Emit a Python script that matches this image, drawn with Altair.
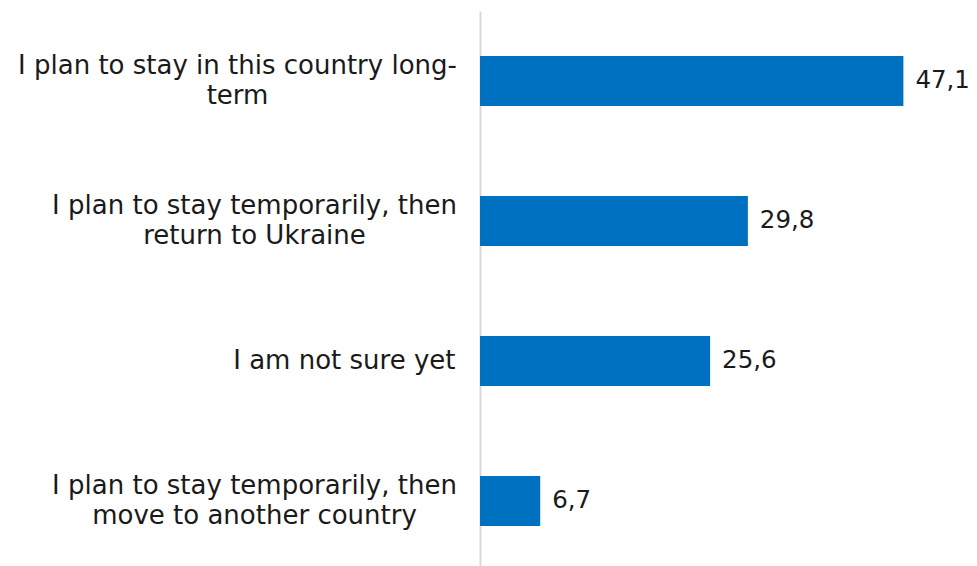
import altair as alt
import pandas as pd

categories = [
    "I plan to stay in this country long-\nterm",
    "I plan to stay temporarily, then\nreturn to Ukraine",
    "I am not sure yet",
    "I plan to stay temporarily, then\nmove to another country",
]
values = [47.1, 29.8, 25.6, 6.7]
value_labels = ["47,1", "29,8", "25,6", "6,7"]

df = pd.DataFrame({"cat": categories, "val": values, "lab": value_labels})

FONT = "DejaVu Sans"
MULTI = "indexof(datum.value, '\\n') >= 0"

y = alt.Y(
    "cat:N",
    sort=categories,
    title=None,
    scale=alt.Scale(paddingInner=0.643, paddingOuter=0.3215),
    axis=alt.Axis(
        ticks=False,
        domain=True,
        domainColor="#d9d9d9",
        domainWidth=2,
        labelFont=FONT,
        labelFontSize=26,
        labelColor="#1a1a1a",
        labelLineHeight=30,
        labelLimit=0,
        labelExpr="split(datum.label, '\\n')",
        labelAlign={"condition": {"test": MULTI, "value": "center"}, "value": "right"},
        labelPadding={
            "condition": [
                {"test": "datum.value == '%s'" % categories[0].replace("\n", "\\n"), "value": 243},
                {"test": MULTI, "value": 226},
            ],
            "value": 25,
        },
        labelOffset={"condition": {"test": MULTI, "value": -15}, "value": 0},
    ),
)
x = alt.X("val:Q", title=None, scale=alt.Scale(domain=[0, 54.4]), axis=None)

bars = alt.Chart(df).mark_bar(color="#0070C0").encode(x=x, y=y)
text = alt.Chart(df).mark_text(
    align="left", baseline="middle", dx=12, font=FONT, fontSize=24.5, color="#1a1a1a"
).encode(x=x, y=alt.Y("cat:N", sort=categories), text="lab:N")

chart = (
    alt.layer(bars, text)
    .properties(
        width=489,
        height=560,
        autosize=alt.AutoSizeParams(type="none"),
        padding={"left": 472, "top": 3, "right": 0, "bottom": 0},
    )
    .configure_view(stroke=None)
)

chart.save("out.html", embed_options={"renderer": "svg", "actions": False})
